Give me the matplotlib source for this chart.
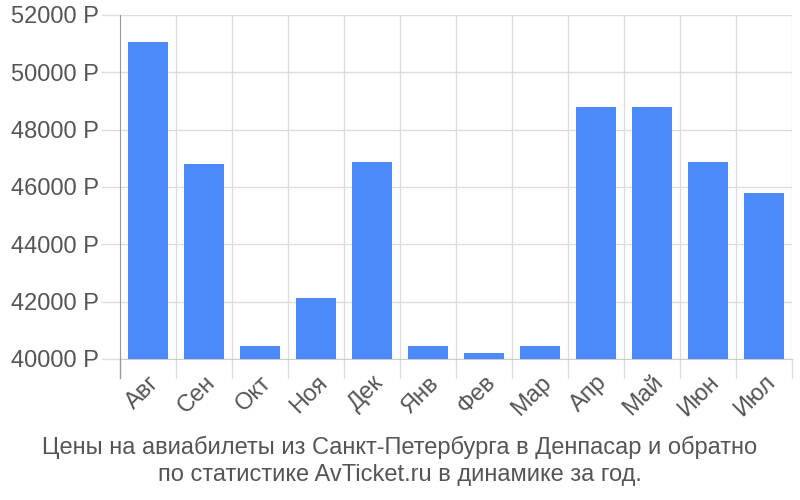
import numpy as np
import matplotlib as mpl
import matplotlib.pyplot as plt
from matplotlib.ticker import FuncFormatter

mpl.rcParams["font.family"] = ["Liberation Sans", "DejaVu Sans"]

months = ["Авг", "Сен", "Окт", "Ноя", "Дек", "Янв", "Фев", "Мар",
          "Апр", "Май", "Июн", "Июл"]
prices = [51050, 46800, 40450, 42120, 46870, 40450, 40210, 40450,
          48790, 48790, 46870, 45790]
yticks = [40000, 42000, 44000, 46000, 48000, 50000, 52000]
title = ("Цены на авиабилеты из Санкт-Петербурга в Денпасар и обратно\n"
         "по статистике AvTicket.ru в динамике за год.")

BAR = "#4d8af9"
GRID = "#dddddd"
TEXT = "#555555"

fig = plt.figure(figsize=(8, 5), dpi=100)
ax = fig.add_axes([0.15, 0.282, 0.84, 0.688])

x = np.arange(len(months))
ax.bar(x, np.array(prices) - 40000, bottom=40000, width=0.71,
       color=BAR, zorder=3)

ax.set_xlim(-0.5, len(months) - 0.5)
ax.set_ylim(40000, 52000)

# horizontal grid + y ticks
ax.set_yticks(yticks)
ax.yaxis.set_major_formatter(FuncFormatter(lambda v, p: f"{int(v)} Р"))
ax.grid(axis="y", color=GRID, lw=1, zorder=0)
ax.tick_params(axis="y", length=14, width=1, color=GRID, pad=1,
               labelsize=17, labelcolor=TEXT)

# vertical grid at category boundaries
bounds = np.arange(0.5, len(months) - 0.5, 1.0)
for b in bounds:
    ax.axvline(b, color=GRID, lw=1, zorder=0)
ax.axvline(len(months) - 0.5, color=GRID, lw=1, zorder=0)

ax.set_xticks(np.append(bounds, len(months) - 0.5), minor=True)
ax.tick_params(axis="x", which="minor", length=14, width=1, color=GRID)
ax.set_xticks(x)
ax.set_xticklabels(months, rotation=45, ha="right", va="top",
                   rotation_mode="anchor")
ax.tick_params(axis="x", which="major", length=0, pad=9,
               labelsize=17, labelcolor=TEXT)

for s in ["top", "right"]:
    ax.spines[s].set_visible(False)
ax.spines["bottom"].set_color("#cccccc")
ax.spines["left"].set_color("#999999")
ax.spines["left"].set_bounds(40000, 52000)

# left axis line extends below the bottom like the tick marks
ax.plot([-0.5, -0.5], [40000 - 12000 * 19 / 344, 40000], color="#999999",
        lw=1, clip_on=False, zorder=4)

fig.text(0.5, 0.078, title, ha="center", va="center", fontsize=17,
         color=TEXT, linespacing=1.25)

fig.savefig("out.png", dpi=100)
